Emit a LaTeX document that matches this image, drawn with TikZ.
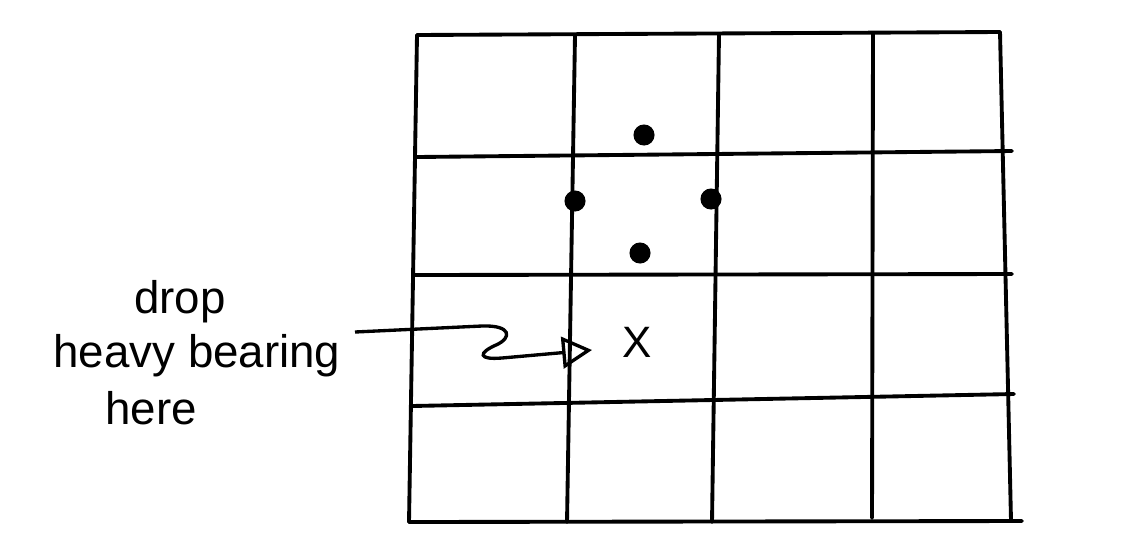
\documentclass[tikz,border=0pt]{standalone}
\usepackage{fontspec}
\setmainfont{Liberation Sans}
\usetikzlibrary{arrows.meta,calc}
\begin{document}
\begin{tikzpicture}[x=0.02cm,y=-0.02cm,
  gridline/.style={line width=2.2pt,line cap=round},
  dot/.style={circle,fill=black,inner sep=0pt,minimum width=11pt,minimum height=12pt},
  hand/.style={font=\fontsize{26}{30}\selectfont,inner sep=0pt,anchor=base},
  xmark/.style={font=\fontsize{25}{30}\selectfont,inner sep=0pt},
  pointer/.style={line width=1.9pt,-{Triangle[open,length=17pt,width=18pt,line width=1.9pt]}}]
\fill[white] (0,0) rectangle (1124,555);
\useasboundingbox (0,0) rectangle (1124,555);
% horizontal lines
\draw[gridline] (417,35) -- (1000,32);
\draw[gridline] (417,157) -- (1012,151);
\draw[gridline] (414,275) -- (1012,274);
\draw[gridline] (412,406) -- (1014,394);
\draw[gridline] (409,522) -- (1022,521);
% vertical lines
\draw[gridline] (417,35) -- (409,522);
\draw[gridline] (575,35) -- (567,522);
\draw[gridline] (719,34) -- (712,522);
\draw[gridline] (873,33) -- (872,518);
\draw[gridline] (1000,32) -- (1011,521);
% dots
\node[dot] (d1) at (644,135) {};
\node[dot] (d2) at (575,201) {};
\node[dot] (d3) at (711,199) {};
\node[dot] (d4) at (640,253) {};
% labels
\node[hand] (drop) at (180,313) {drop};
\node[hand] (heavy) at (197,367) {heavy bearing};
\node[hand] (here) at (151,424) {here};
\node[xmark] (x) at (637,342) {X};
% pointer
\coordinate (start) at (355,332);
\draw[pointer] (start) -- (482,326) .. controls (512,325) and (512,338) .. (496,345)
  .. controls (478,353) and (478,360) .. (502,358) -- ($(x.center)+(-45,8)$);
\end{tikzpicture}
\end{document}
